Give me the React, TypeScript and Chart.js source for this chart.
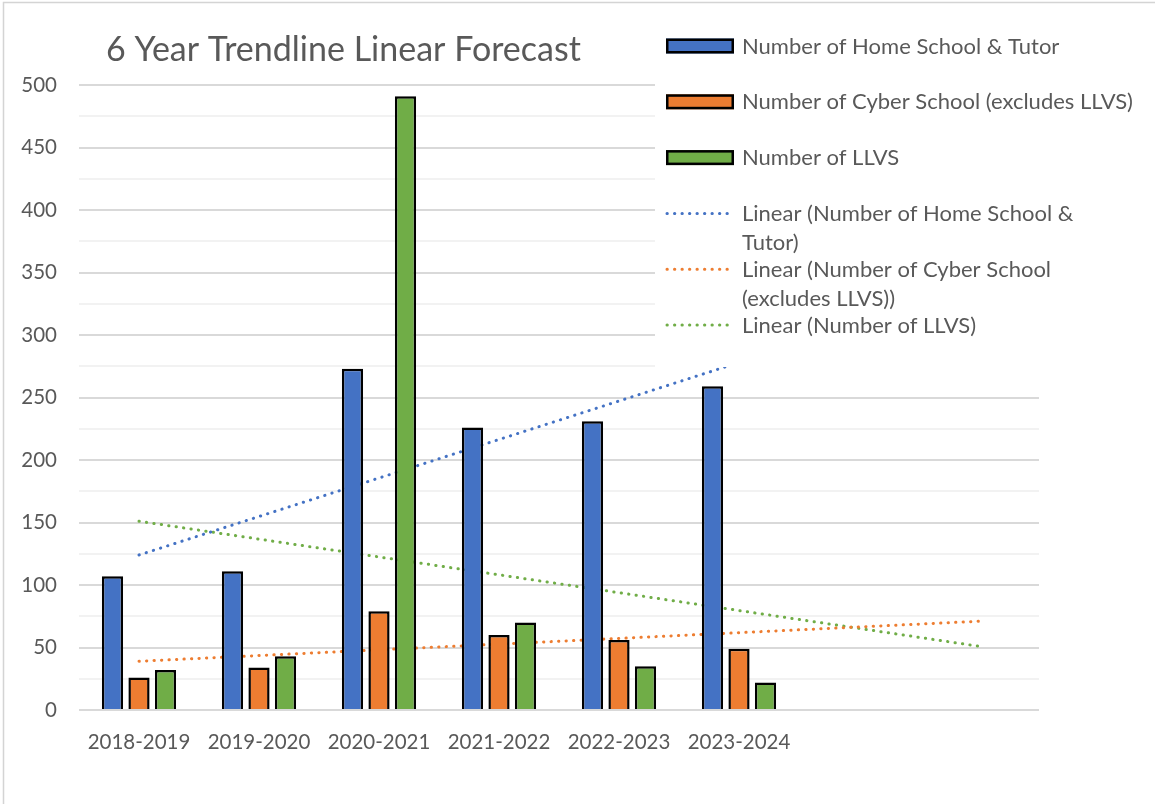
import React, { useEffect, useRef } from 'react';
import { Chart, registerables } from 'chart.js';

Chart.register(...registerables);

// ---------- data ----------
const categories = ['2018-2019', '2019-2020', '2020-2021', '2021-2022', '2022-2023', '2023-2024', '', ''];
const homeSchoolTutor = [107, 111, 273, 226, 231, 259];
const cyberSchool = [26, 34, 79, 60, 56, 49];
const llvs = [32, 43, 491, 70, 35, 22];
// linear trendline end points (start / end category)
const homeSchoolTrend = [124, null, null, null, null, 278, null, null];
const cyberSchoolTrend = [39, null, null, null, null, null, null, 71];
const llvsTrend = [151, null, null, null, null, null, null, 51];

const seriesNames = ['Number of Home School & Tutor', 'Number of Cyber School (excludes LLVS)', 'Number of LLVS'];
const trendNames = [
  'Linear (Number of Home School & Tutor)',
  'Linear (Number of Cyber School (excludes LLVS))',
  'Linear (Number of LLVS)',
];
const legendLines = [
  ['Number of Home School & Tutor'],
  ['Number of Cyber School (excludes LLVS)'],
  ['Number of LLVS'],
  ['Linear (Number of Home School &', 'Tutor)'],
  ['Linear (Number of Cyber School', '(excludes LLVS))'],
  ['Linear (Number of LLVS)'],
];
const chartTitle = '6 Year Trendline Linear Forecast';
const yMin = 0;
const yMax = 500;
const yMinorStep = 25;
const yLabelStep = 50;

// ---------- style ----------
const BLUE = '#4472C4';
const ORANGE = '#ED7D31';
const GREEN = '#70AD47';
const TEXT = '#595959';
const FONT = 'Lato, "Open Sans", sans-serif';
const LABEL_SIZE = 20.5;
const LEGEND_SIZE = 22;
const TITLE_SIZE = 34;
const DOT_DASH = [0.3, 7.2];
const DOT_WIDTH = 3;
const BAR_BORDER = 2.5;

const decorPlugin = {
  id: 'excelDecor',
  afterDraw(chart: any) {
    const ctx: CanvasRenderingContext2D = chart.ctx;
    ctx.save();
    // title
    ctx.font = `${TITLE_SIZE}px ${FONT}`;
    ctx.fillStyle = TEXT;
    ctx.textAlign = 'left';
    ctx.textBaseline = 'alphabetic';
    ctx.fillText(chartTitle, 106, 61);

    // legend (overlays plot area like Excel)
    ctx.fillStyle = '#ffffff';
    ctx.fillRect(655, 8, 500, 359);
    const rowTop = 46;
    const rowStep = 55.8;
    const datasets = chart.data.datasets;
    ctx.font = `${LEGEND_SIZE}px ${FONT}`;
    datasets.forEach((ds: any, i: number) => {
      const cy = rowTop + i * rowStep;
      if (ds.type === 'line') {
        ctx.save();
        ctx.strokeStyle = ds.borderColor;
        ctx.lineWidth = ds.borderWidth;
        ctx.lineCap = 'round';
        ctx.setLineDash(ds.borderDash);
        ctx.beginPath();
        ctx.moveTo(667, cy);
        ctx.lineTo(731, cy);
        ctx.stroke();
        ctx.restore();
      } else {
        ctx.fillStyle = ds.backgroundColor;
        ctx.fillRect(666, cy - 7.5, 68, 15);
        ctx.strokeStyle = '#000';
        ctx.lineWidth = BAR_BORDER;
        ctx.strokeRect(667.25, cy - 6.25, 65.5, 12.5);
      }
      ctx.fillStyle = TEXT;
      const lines = legendLines[i] || [ds.label];
      lines.forEach((t: string, j: number) => {
        ctx.fillText(t, 742, cy + 7.5 + j * 29.5);
      });
    });

    // outer chart border (left / top visible)
    ctx.strokeStyle = '#d4d4d4';
    ctx.lineWidth = 1.5;
    ctx.beginPath();
    ctx.moveTo(3.5, 804);
    ctx.lineTo(3.5, 2.5);
    ctx.lineTo(1155, 2.5);
    ctx.stroke();
    ctx.restore();
  },
};

export default function App() {
  const canvasRef = useRef<HTMLCanvasElement | null>(null);

  useEffect(() => {
    document.body.style.margin = '0';
    let chart: Chart | null = null;
    let cancelled = false;
    const make = () => {
      if (cancelled || !canvasRef.current) return;
      Chart.defaults.font.family = FONT;
      const barStyle = { borderColor: '#000', borderWidth: BAR_BORDER, order: 0 };
      const lineStyle = {
        borderWidth: DOT_WIDTH,
        borderDash: DOT_DASH,
        borderCapStyle: 'round',
        pointRadius: 0,
        spanGaps: true,
        fill: false,
        order: 1,
      };
      chart = new Chart(canvasRef.current, {
        type: 'bar',
        data: {
          labels: categories,
          datasets: [
            { type: 'bar', label: seriesNames[0], data: homeSchoolTutor, backgroundColor: BLUE, ...barStyle },
            { type: 'bar', label: seriesNames[1], data: cyberSchool, backgroundColor: ORANGE, ...barStyle },
            { type: 'bar', label: seriesNames[2], data: llvs, backgroundColor: GREEN, ...barStyle },
            { type: 'line', label: trendNames[0], data: homeSchoolTrend, borderColor: BLUE, ...lineStyle },
            { type: 'line', label: trendNames[1], data: cyberSchoolTrend, borderColor: ORANGE, ...lineStyle },
            { type: 'line', label: trendNames[2], data: llvsTrend, borderColor: GREEN, ...lineStyle },
          ] as any,
        },
        options: {
          responsive: false,
          animation: false,
          events: [],
          datasets: {
            bar: { barPercentage: 0.8, categoryPercentage: 0.6625 },
          } as any,
          layout: { padding: { left: 0, right: 116, top: 85, bottom: 34 } },
          plugins: {
            legend: { display: false },
            title: { display: false },
            tooltip: { enabled: false },
          },
          scales: {
            x: {
              type: 'category',
              offset: true,
              grid: { display: false, drawTicks: false },
              border: { display: false },
              ticks: { color: TEXT, font: { size: LABEL_SIZE, family: FONT }, padding: 20, maxRotation: 0, autoSkip: false },
              afterFit: (s: any) => { s.height = 60; },
            },
            y: {
              min: yMin,
              max: yMax,
              grid: {
                drawTicks: false,
                lineWidth: 2,
                color: (c: any) => (c.tick && c.tick.value % yLabelStep === 0 ? '#d9d9d9' : '#f2f2f2'),
              },
              border: { display: false },
              ticks: {
                stepSize: yMinorStep,
                autoSkip: false,
                padding: 22,
                color: TEXT,
                font: { size: LABEL_SIZE, family: FONT },
                callback: (v: any) => (Number(v) % yLabelStep === 0 ? String(v) : ''),
              },
              afterFit: (s: any) => { s.width = 79; },
            },
          },
        } as any,
        plugins: [decorPlugin],
      });
    };
    const fonts: any = (document as any).fonts;
    if (fonts && fonts.load) {
      Promise.all([fonts.load(`${LABEL_SIZE}px Lato`), fonts.load(`${TITLE_SIZE}px Lato`)]).then(make, make);
    } else {
      make();
    }
    return () => {
      cancelled = true;
      if (chart) chart.destroy();
    };
  }, []);

  return (
    <div style={{ position: 'relative', width: 1155, height: 804, background: '#fff' }}>
      <canvas ref={canvasRef} width={1155} height={804} style={{ display: 'block' }} />
    </div>
  );
}
